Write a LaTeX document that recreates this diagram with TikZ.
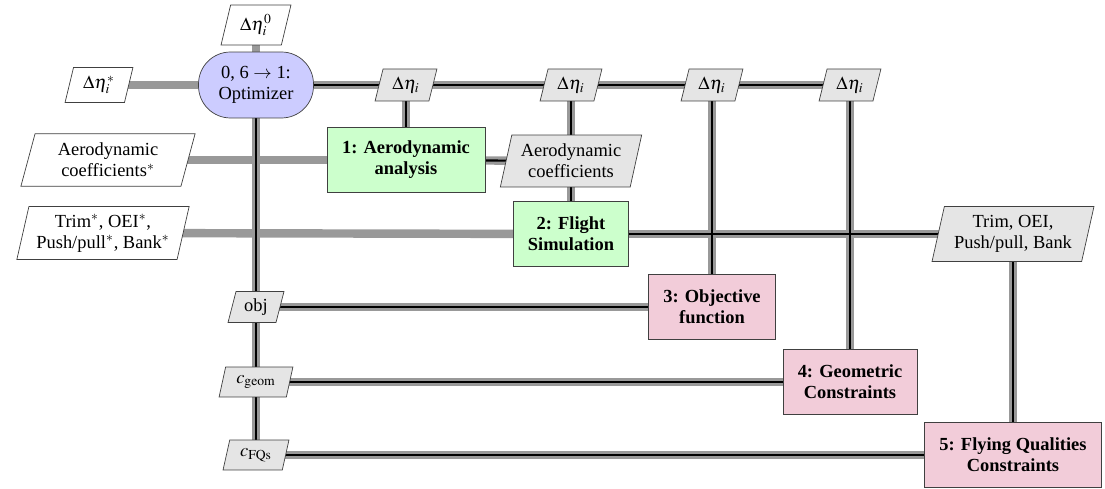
\documentclass[tikz,border=0pt]{standalone}
\usepackage{mathptmx}
\usepackage{fontspec}
\setmainfont{Liberation Serif}
\usepackage{tikz}
\usetikzlibrary{shapes.geometric,backgrounds}

\definecolor{optblue}{rgb}{0.8,0.8,1}
\definecolor{anagreen}{rgb}{0.8,1,0.8}
\definecolor{funcpink}{rgb}{0.95,0.8,0.85}

\tikzset{
  optbox/.style={draw=black!75,fill=optblue,rounded corners=0.64cm,minimum width=2.3cm,minimum height=1.32cm,align=center},
  anabox/.style={draw=black!75,fill=anagreen,minimum height=1.3cm,align=center,font=\fontsize{10.5}{12}\selectfont\bfseries},
  funcbox/.style={anabox,fill=funcpink},
  interio/.style={trapezium,trapezium left angle=75,trapezium right angle=105,trapezium stretches=true,draw=black!75,fill=black!10,align=center,inner xsep=1pt,inner ysep=1pt},
  extio/.style={interio,fill=white},
  graylink/.style={line width=4.8pt,draw=black!40},
  blacklink/.style={line width=1.2pt,draw=black}
}

\begin{document}
\begin{tikzpicture}[x=0.02cm,y=-0.02cm,font=\fontsize{10.5}{12}\selectfont]
  \useasboundingbox (0,0) rectangle (1105,489);
  \node[optbox] (opt) at (256,85) {0, 6 $\rightarrow$ 1:\\Optimizer};
  \node[extio,minimum width=1.4cm,minimum height=0.8cm] (eta0) at (256,25) {$\Delta\eta_i^0$};
  \node[extio,minimum width=1.36cm,minimum height=0.7cm] (etastar) at (99,85) {$\Delta\eta_i^*$};
  \foreach \n/\x in {1/406,2/571,3/712,4/850} {
    \node[interio,minimum width=1.24cm,minimum height=0.64cm] (eta\n) at (\x,85) {$\Delta\eta_i$};
  }
  \node[extio,minimum width=3.5cm,minimum height=1.05cm] (aerostar) at (108,160) {Aerodynamic\\coefficients$^*$};
  \node[anabox,minimum width=3.16cm] (aero) at (406,160) {1: Aerodynamic\\analysis};
  \node[interio,minimum width=2.84cm,minimum height=1.04cm] (aerocoef) at (571,161) {Aerodynamic\\coefficients};
  \node[extio,minimum width=3.46cm,minimum height=1.06cm] (trimstar) at (103,233) {Trim$^*$, OEI$^*$,\\Push/pull$^*$, Bank$^*$};
  \node[anabox,minimum width=2.3cm] (flight) at (571,234) {2: Flight\\Simulation};
  \node[interio,minimum width=3.26cm,minimum height=1.1cm] (trimout) at (1013,234) {Trim, OEI,\\Push/pull, Bank};
  \node[interio,minimum width=1.12cm,minimum height=0.62cm] (obj) at (256,307) {obj};
  \node[funcbox,minimum width=2.54cm] (objf) at (712,307) {3: Objective\\function};
  \node[interio,minimum width=1.48cm,minimum height=0.6cm] (cgeom) at (256,382) {$c_{\mathrm{geom}}$};
  \node[funcbox,minimum width=2.68cm] (geom) at (850,382) {4: Geometric\\Constraints};
  \node[interio,minimum width=1.32cm,minimum height=0.6cm] (cfqs) at (256,455) {$c_{\mathrm{FQs}}$};
  \node[funcbox,minimum width=3.54cm] (fq) at (1013,455) {5: Flying Qualities\\Constraints};
  \begin{pgfonlayer}{background}
    \foreach \a/\b in {eta0/opt,etastar/opt,aerostar/aero,trimstar/flight,opt/eta4,eta1/aero,eta2/flight,eta3/objf,eta4/geom,aero/aerocoef,flight/trimout,trimout/fq,opt/cfqs,obj/objf,cgeom/geom,cfqs/fq}
      \draw[graylink] (\a.center) -- (\b.center);
    \foreach \a/\b in {opt/eta4,eta1/aero,eta2/flight,eta3/objf,eta4/geom,aero/aerocoef,flight/trimout,trimout/fq,opt/cfqs,obj/objf,cgeom/geom,cfqs/fq}
      \draw[blacklink] (\a.center) -- (\b.center);
  \end{pgfonlayer}
\end{tikzpicture}
\end{document}
